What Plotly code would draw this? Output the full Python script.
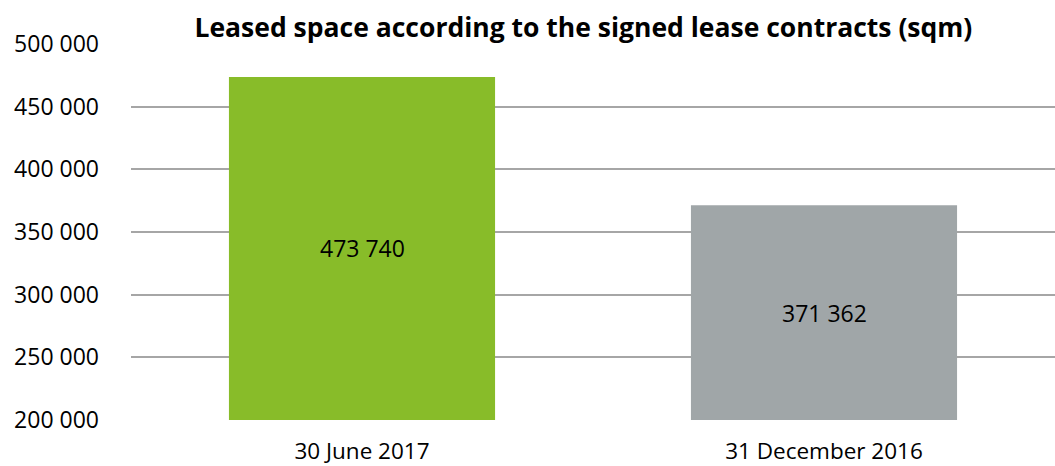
import plotly.graph_objects as go

categories = ["30 June 2017", "31 December 2016"]
values = [473740, 371362]
colors = ["#88BC29", "#A0A6A8"]
tick_vals = [200000, 250000, 300000, 350000, 400000, 450000, 500000]
title = "Leased space according to the signed lease contracts (sqm)"
y_min, y_max = 200000, 500000

def fmt(v):
    return f"{v:,}".replace(",", " ")

fig = go.Figure(go.Bar(
    x=categories, y=values, marker=dict(color=colors, line=dict(width=0)),
    hoverinfo="x+y",
))

for c, v in zip(categories, values):
    fig.add_annotation(x=c, y=(v + y_min) / 2, text=fmt(v), showarrow=False,
                       font=dict(size=23, color="black", family="Open Sans"))

fig.update_layout(
    width=1055, height=466,
    margin=dict(l=131, r=0, t=44, b=46),
    paper_bgcolor="white", plot_bgcolor="white",
    bargap=0.424,
    showlegend=False,
    font=dict(family="Open Sans", size=23, color="black"),
    title=dict(text="<b>" + title + "</b>", x=0.553, xanchor="center", y=0.94, yanchor="middle",
               font=dict(size=26.5, family="Open Sans", color="black"), automargin=False),
    xaxis=dict(showgrid=False, showline=False, ticks="", ticklabelstandoff=15,
               tickfont=dict(size=22.5), automargin=False),
    yaxis=dict(range=[y_min, y_max], tickvals=tick_vals, ticktext=[fmt(v) for v in tick_vals],
               showgrid=True, gridcolor="#A6A6A6", gridwidth=2, zeroline=False,
               showline=False, ticks="", ticklabelstandoff=31, tickfont=dict(size=23),
               automargin=False),
)

fig.write_html("out.html")
